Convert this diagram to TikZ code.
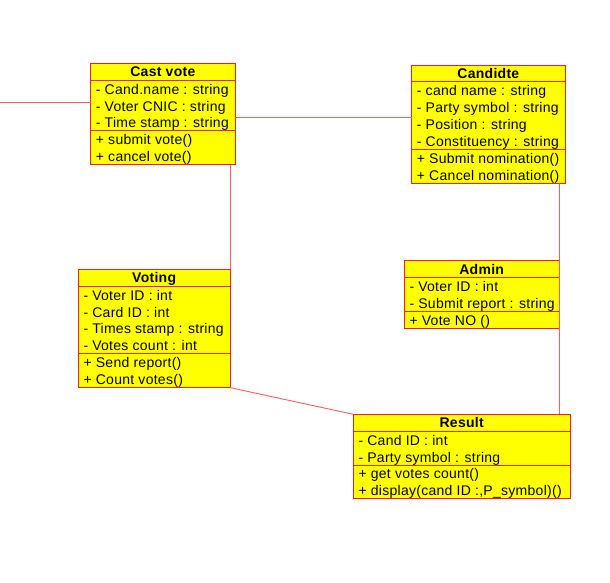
\documentclass[tikz,border=0pt]{standalone}
\usepackage{fontspec}
\setmainfont{Liberation Sans}[LetterSpace=2]
\usetikzlibrary{calc}

% colours of the class diagram
\definecolor{boxfill}{RGB}{255,255,0}
\definecolor{boxline}{RGB}{240,30,30}
\definecolor{linkline}{RGB}{255,90,90}

\tikzset{
  classframe/.style={draw=boxline, fill=boxfill, line width=0.9pt,
    rectangle, anchor=north west, inner sep=0pt, outer sep=0pt},
  sepline/.style={draw=boxline, line width=0.9pt},
  titletext/.style={anchor=base, inner sep=0pt, font=\fontsize{14}{16}\selectfont\bfseries},
  membertext/.style={anchor=base west, inner sep=0pt, font=\fontsize{14}{16}\selectfont},
  link/.style={draw=linkline, line width=0.9pt},
}

% row height of one compartment line
\newcommand{\rowh}{16.9}

% frame of a class: name, left x, top y, width, attribute rows, operation rows
\newcommand{\classbox}[6]{%
  \pgfmathsetmacro{\totrows}{1+#5+#6}%
  \node[classframe, minimum width=#4pt, minimum height=\totrows*\rowh pt] (#1) at (#2,#3) {};
  \draw[sepline] ([yshift=-\rowh pt]#1.north west) -- ([yshift=-\rowh pt]#1.north east);
  \draw[sepline] ([yshift={-(1+#5)*\rowh pt}]#1.north west) -- ([yshift={-(1+#5)*\rowh pt}]#1.north east);
}
% class name, centred in the top compartment
\newcommand{\classtitle}[3]{%
  \node[titletext] (#2) at ([yshift=-13.5pt]#1.north) {#3};}
% one member line: box, row number, node name, text
\newcommand{\classmember}[4]{%
  \node[membertext] (#3) at ([xshift=5pt,yshift={-(#2*\rowh+13.9)*1pt}]#1.north west) {#4};}

\begin{document}
\begin{tikzpicture}[x=1pt,y=-1pt]
\useasboundingbox (0,0) rectangle (610,582);

% Cast vote
\classbox{cast}{90.7}{63.3}{144.3}{3}{2}
\classtitle{cast}{castT}{Cast vote}
\classmember{cast}{1}{castA}{- Cand.name : string}
\classmember{cast}{2}{castB}{- Voter CNIC : string}
\classmember{cast}{3}{castC}{- Time stamp : string}
\classmember{cast}{4}{castD}{+ submit vote()}
\classmember{cast}{5}{castE}{+ cancel vote()}

% Candidte
\classbox{cand}{411.7}{65}{153.3}{4}{2}
\classtitle{cand}{candT}{Candidte}
\classmember{cand}{1}{candA}{- cand name : string}
\classmember{cand}{2}{candB}{- Party symbol : string}
\classmember{cand}{3}{candC}{- Position : string}
\classmember{cand}{4}{candD}{- Constituency : string}
\classmember{cand}{5}{candE}{+ Submit nomination()}
\classmember{cand}{6}{candF}{+ Cancel nomination()}

% Voting
\classbox{voting}{78.3}{269.3}{151.7}{4}{2}
\classtitle{voting}{votT}{Voting}
\classmember{voting}{1}{votA}{- Voter ID : int}
\classmember{voting}{2}{votB}{- Card ID : int}
\classmember{voting}{3}{votC}{- Times stamp : string}
\classmember{voting}{4}{votD}{- Votes count : int}
\classmember{voting}{5}{votE}{+ Send report()}
\classmember{voting}{6}{votF}{+ Count votes()}

% Admin
\classbox{admin}{404.3}{260.7}{154.7}{2}{1}
\classtitle{admin}{admT}{Admin}
\classmember{admin}{1}{admA}{- Voter ID  : int}
\classmember{admin}{2}{admB}{- Submit report : string}
\classmember{admin}{3}{admC}{+ Vote NO ()}

% Result
\classbox{result}{353.3}{414.3}{216.7}{2}{2}
\classtitle{result}{resT}{Result}
\classmember{result}{1}{resA}{- Cand ID : int}
\classmember{result}{2}{resB}{- Party symbol : string}
\classmember{result}{3}{resC}{+ get votes count()}
\classmember{result}{4}{resD}{+ display(cand ID :,P\_symbol)()}

% associations
\coordinate (leftend) at (0,102.7);
\coordinate (castlevel) at (0,117.3);
\draw[link] (leftend) -- (leftend -| cast.west);
\draw[link] (cast.east |- castlevel) -- (cand.west |- castlevel);
\draw[link] (voting.north east |- cast.south) -- (voting.north east);
\draw[link] (voting.south east) -- (result.north west);
\draw[link] (admin.east |- cand.south) -- (admin.east |- result.north);
\end{tikzpicture}
\end{document}
